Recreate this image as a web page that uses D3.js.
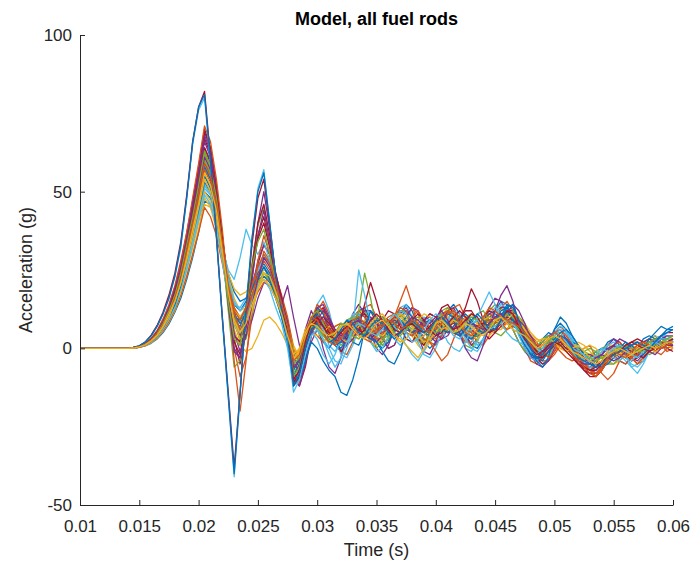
<!DOCTYPE html>
<meta charset="utf-8">
<head>
    <title>Model, all fuel rods</title>
    <script src="https://d3js.org/d3.v7.min.js"></script>
    <style>
        body { margin: 0; background: #fff; }
        .tick text { font-family: "Liberation Sans", Arial, sans-serif; font-size: 17px; fill: #262626; }
        .domain, .tick line { stroke: #262626; }
    </style>
</head>
<body>
<script>
    // sampling of the rod signals (s)
    var t0 = 0.01, dt = 0.0005;

    var xTicks = [0.01, 0.015, 0.02, 0.025, 0.03, 0.035, 0.04, 0.045, 0.05, 0.055, 0.06];
    var xTickLabels = ["0.01", "0.015", "0.02", "0.025", "0.03", "0.035", "0.04", "0.045", "0.05", "0.055", "0.06"];
    var yTicks = [-50, 0, 50, 100];
    var yTickLabels = ["-50", "0", "50", "100"];

    // acceleration (g) per rod, one value every dt from t0
    var rod01 = [0,0,0,0,0,0,0,0,0,0, 0.3,0.8,1.6,3,5,7.8,11.5,16,22,29, 37,47,46,40,31,21,14,12,15,21, 26,29,27,22,16,8,-3,-6,0,8,
        13,11,6,1,-1,2,7,12,13,9, 4,1,2,6,11,14,12,7,2,0, 2,7,12,14,11,5,1,0,3,8, 12,15,14,10,5,0,-3,-4,-2,2, 6,8,6,2,-2,-5,-6,-4,-1,2, 3,1,-2,-4,-3,0,3,4,2,0, 1];
    var rod02 = [0,0,0,0,0,0,0,0,0,0.3, 0.7,1.6,3.2,5.7,9.4,14,20,28,37,47, 57,63,57,46,30,14,0,-9,-3,10, 22,31,28,20,13,4,-8,-11,-4,5,
        12,15,11,4,-1,-2,2,8,13,14, 10,4,0,1,5,10,13,11,6,2, 1,4,9,13,14,10,5,2,1,4, 9,13,15,12,6,0,-4,-5,-3,1, 5,7,5,1,-3,-6,-8,-9,-7,-4, -1,1,0,-2,-3,-1,2,3,1,-1, 0];
    var rod03 = [0,0,0,0,0,0,0,0,0,0.1, 0.4,1,2.2,3.9,6.5,10,14,20,27,35, 43,52,50,44,34,23,16,12,13,17, 22,25,24,20,15,9,1,-3,1,6,
        11,13,10,5,2,3,7,10,11,8, 4,2,3,7,10,11,8,4,1,2, 6,10,13,12,8,3,1,2,6,10, 12,11,9,8,6,3,0,-2,-2,0, 3,4,2,-1,-4,-6,-5,-3,-1,1, 1,-1,-3,-4,-2,1,3,4,3,2, 2];
    var rod04 = [0,0,0,0,0,0,0,0,0,0.2, 0.5,1.2,2.5,4.4,7.4,11,16,22,31,40, 49,59,56,48,35,22,12,5,4,9, 16,21,20,16,11,3,-7,-4,6,12,
        8,0,-6,-8,-3,5,11,14,11,5, 0,-2,1,6,11,13,10,4,-1,-2, 2,8,12,13,9,4,1,3,8,13, 16,15,11,6,2,-1,-3,-3,-1,2, 5,6,3,-1,-4,-6,-7,-5,-2,1, 3,2,-1,-3,-4,-2,1,3,4,3, 2];
    var rod05 = [0,0,0,0,0,0,0,0,0,0.1, 0.4,1.1,2.3,4.1,6.9,10.5,15,21,29,37, 46,55,52,45,33,21,13,9,11,16, 20,23,22,18,12,5,-5,-7,-1,7,
        12,12,8,3,1,3,8,12,12,8, 3,1,3,8,12,12,8,3,1,3, 8,12,13,10,5,1,0,3,8,12, 14,13,10,6,2,-1,-2,-1,1,3, 5,5,2,-2,-5,-6,-5,-2,0,1, 0,-2,-3,-2,0,2,3,2,1,1, 2];
    var rod06 = [0,0,0,0,0,0,0,0,0,0.2, 0.5,1.2,2.4,4.4,7.3,11,16,22,30,39, 48,58,55,46,33,20,14,13,16,21, 26,30,28,22,15,6,-6,-9,-3,6,
        14,17,12,4,-2,-3,1,6,9,8, 5,3,5,9,13,14,10,5,2,3, 7,11,12,9,4,0,-1,2,7,11, 13,11,8,6,5,3,-1,-4,-5,-3, 1,4,5,3,0,-4,-7,-8,-6,-3, -1,-2,-4,-6,-5,-2,1,3,4,4, 3];
    var rod07 = [0,0,0,0,0,0,0,0,0,0.2, 0.5,1.3,2.8,5,8.4,12.7,18,25,35,45, 56,67,62,51,36,20,8,3,7,17, 27,33,30,23,15,7,-9,-12,-6,4,
        11,13,9,3,-1,1,6,10,11,9, 6,5,7,10,12,11,7,3,1,4, 9,13,14,11,7,4,3,6,10,12, 11,9,8,9,8,5,1,-3,-5,-4, -1,2,3,1,-3,-7,-9,-9,-7,-4, -2,-1,-2,-4,-3,0,2,3,2,0, -1];
    var rod08 = [0,0,0,0,0,0,0,0,0,0.1, 0.4,1,2.1,3.8,6.3,9.5,14,19,26,34, 42,50,48,42,33,24,18,15,16,19, 22,23,21,17,12,6,-2,-4,2,9,
        13,11,6,2,0,3,8,11,10,6, 2,0,2,6,10,12,10,6,3,2, 4,8,11,11,8,5,3,4,7,10, 11,10,8,7,6,4,1,-1,-1,1, 3,3,1,-2,-4,-4,-3,-1,0,0, -2,-4,-5,-3,0,3,4,3,1,0, 1];
    var rod09 = [0,0,0,0,0,0,0,0,0,0.2, 0.5,1.2,2.6,4.6,7.6,11.6,17,23,32,41, 51,61,58,49,35,21,13,10,12,18, 25,29,28,23,17,10,0,-4,1,9,
        14,12,7,3,3,6,10,12,10,6, 3,3,6,10,13,12,8,4,2,4, 8,11,12,9,5,2,2,5,9,11, 10,7,6,8,9,7,3,-1,-4,-4, -2,1,2,0,-3,-5,-6,-6,-4,-1, 1,2,0,-3,-5,-4,-1,2,3,2, 0];
    var rod10 = [0,0,0,0,0,0,0,0,0,0.1, 0.3,0.8,1.7,3.2,5.4,8.3,12,17,23,30, 38,46,45,40,32,24,19,17,18,21, 23,24,22,18,13,7,0,-2,3,10,
        12,8,3,1,3,7,10,9,5,2, 1,4,8,11,11,8,4,1,-1,2, 6,9,10,8,6,5,6,8,9,8, 6,6,8,10,9,6,2,-1,-2,0, 2,1,-1,-3,-4,-3,-2,-2,-3,-4, -5,-4,-2,0,1,0,-1,0,1,2, 3];
    var rod11 = [0,0,0,0,0,0,0,0,0,0.2, 0.5,1.3,2.7,4.8,8,12,18,24,33,43, 53,64,60,50,35,19,8,4,9,19, 28,33,30,24,16,6,-10,-12,-5,6,
        13,14,10,5,2,2,5,9,12,12, 8,3,0,1,5,10,13,12,8,4, 2,3,6,9,10,9,7,7,9,11, 12,13,13,11,7,2,-2,-5,-6,-4, 0,3,3,0,-4,-6,-8,-7,-5,-2, 0,1,0,-2,-3,-2,0,2,3,3, 2];
    var rod12 = [0,0,0,0,0,0,0,0,0,0.1, 0.5,1.1,2.4,4.3,7.1,11,16,22,30,38, 47,57,54,46,34,21,10,2,3,11, 19,24,23,19,14,8,-1,-5,-2,5,
        10,9,5,2,3,7,10,10,6,2, 0,2,6,10,11,9,5,2,2,5, 9,11,9,6,4,5,8,11,12,9, 5,4,6,9,10,8,3,-1,-3,-2, 1,3,2,-1,-3,-4,-3,-2,-3,-5, -5,-3,0,2,2,0,-2,-1,1,3, 4];
    var rod13 = [0,0,0,0,0,0,0,0,0,0.1, 0.4,1,2.1,3.8,6.4,9.7,14,20,27,35, 43,51,49,43,33,22,15,12,14,19, 25,29,27,21,13,2,-12,-10,-1,8,
        10,6,1,-1,2,7,11,11,7,2, -1,0,4,9,12,11,7,2,-2,-3, 0,5,9,10,7,3,0,-1,2,7, 11,14,13,9,4,0,-3,-4,-2,2, 5,7,6,3,-1,-4,-6,-7,-6,-4, -2,-1,-3,-5,-6,-4,-1,1,2,2, 1];
    var rod14 = [0,0,0,0,0,0,0,0,0,0.2, 0.6,1.4,2.9,5.2,8.6,13,19,26,36,46, 57,69,64,52,36,18,3,-5,5,22, 36,42,33,22,14,5,-11,-9,0,9,
        12,9,5,3,5,8,9,7,4,3, 5,9,12,11,7,3,2,5,9,11, 10,7,5,6,9,12,12,9,5,3, 5,9,12,12,9,4,0,-3,-3,-1, 2,3,1,-2,-5,-7,-8,-8,-6,-3, -1,0,1,1,0,-1,0,2,4,5, 5];
    var rod15 = [0,0,0,0,0,0,0,0,0,0.2, 0.5,1.2,2.4,4.4,7.3,11,16,22,30,39, 48,58,54,45,32,18,9,7,12,19, 24,27,24,19,14,6,-7,-3,4,8,
        6,2,0,3,6,5,2,1,5,9, 10,7,4,5,8,10,8,5,4,6, 9,10,8,5,5,8,11,9,6,5, 8,12,13,10,6,2,-1,0,3,5, 4,1,0,2,1,-2,-4,-4,-2,0, -1,-3,-2,1,2,0,-1,1,3,3, 2];
    var rod16 = [0,0,0,0,0,0,0,0,0,0.1, 0.4,0.9,1.9,3.4,5.6,8.6,12.4,17,23,30, 37,45,42,36,27,17,10,8,10,14, 18,21,22,20,16,9,-2,-1,3,7,
        9,7,4,2,3,6,8,6,3,2, 4,7,9,8,6,7,10,12,9,5, 3,4,7,9,7,4,3,5,8,10, 9,7,8,11,9,5,1,-2,-1,2, 5,6,4,1,-1,0,1,-3,-8,-10, -8,-4,-2,-3,-5,-3,0,2,1,0, 1];
    var rod17 = [0,0,0,0,0,0,0,0,0,0.1, 0.4,1,2.1,3.8,6.3,9.5,14,19,26,34, 42,50,47,40,29,17,6,1,-1,0, 4,9,10,8,5,1,-4,0,6,9,
        7,4,5,7,8,6,4,3,6,8, 9,8,6,8,11,10,7,4,2,3, 5,8,10,11,9,6,4,3,5,7, 8,7,6,8,9,8,5,3,2,1, 2,3,1,-1,-2,0,1,0,-2,-4, -3,-1,0,1,0,-2,-1,1,2,3, 3];
    var rod18 = [0,0,0,0,0,0,0,0,0,0.2, 0.5,1.3,2.8,5,8.3,12.5,18,25,34,44, 55,66,61,49,33,15,0,-3,8,24, 40,50,38,22,14,20,10,1,-3,2,
        6,9,7,3,2,4,7,9,8,4, 2,4,8,10,9,6,5,7,9,8, 5,3,4,7,10,9,6,4,5,8, 10,9,11,14,12,8,3,0,1,3, 4,3,2,0,-1,-3,-5,-6,-4,-1, 1,0,-2,-3,-1,2,3,2,0,1, 3];
    var rod19 = [0,0,0,0,0,0,0,0,0,0.2, 0.5,1.2,2.6,4.7,7.8,12,17,24,32,42, 51,62,57,47,31,12,-6,-4,10,27, 39,45,33,20,12,5,-8,-5,3,10,
        12,8,4,3,5,6,2,12,24,16, 6,3,4,7,9,8,6,6,8,9, 7,5,6,9,10,8,5,4,7,10, 9,8,10,12,10,7,4,2,3,4, 3,1,0,1,0,-1,-2,-1,-3,-4, -2,0,1,-1,-2,0,2,3,2,1, 2];
    var rod20 = [0,0,0,0,0,0,0,0,0,0.1, 0.4,1,2.2,3.9,6.5,10,14,20,27,35, 43,52,49,41,32,25,22,29,38,33, 30,34,28,18,10,2,-9,-6,1,5,
        3,-2,-5,-2,3,6,7,5,4,6, 9,10,7,3,1,3,6,8,10,9, 7,6,9,12,11,7,3,1,3,6, 9,11,10,8,8,6,3,0,-1,1, 4,6,5,2,-1,-3,-4,-3,-1,1, 2,0,-3,-4,-2,1,2,1,3,5, 6];
    var rod21 = [0,0,0,0,0,0,0,0,0,0.2, 0.6,1.4,2.9,5.3,8.8,13,19,27,36,47, 58,70,64,52,35,17,2,-2,9,26, 40,46,36,24,16,6,-11,-7,1,7,
        9,7,5,6,5,3,4,7,14,21, 15,8,5,6,8,7,5,6,9,11, 10,8,7,8,9,13,19,15,9,6, 5,7,9,10,8,5,2,-1,-2,0, 3,4,2,0,-1,-3,-4,-5,-6,-4, -2,-1,1,2,3,2,0,-1,1,2, 3];
    var rod22 = [0,0,0,0,0,0,0,0,0,0.1, 0.4,1.1,2.3,4.1,6.9,10.5,15,21,29,37, 46,55,51,43,31,19,11,8,11,17, 22,26,23,17,10,3,-9,-5,3,9,
        11,7,3,1,2,5,8,10,7,3, 2,-1,-4,-5,-1,6,9,8,5,4, 6,9,11,10,7,4,3,5,8,9, 8,10,14,13,9,4,-1,-4,-6,-3, 6,10,8,4,1,-2,-4,-5,-6,-5, -3,-1,0,-1,-2,0,3,5,7,6, 7];
    var rod23 = [0,0,0,0,0,0,0,0,0,0.2, 0.6,1.4,3,5.3,8.9,13.5,19.5,27,37,48, 59,71,66,54,38,18,-4,-20,-4,14, 28,36,30,20,13,5,-10,-8,0,6,
        4,2,4,7,8,6,4,5,7,8, 6,5,7,10,15,20,14,7,3,2, -1,-4,-2,3,8,10,8,6,7,9, 10,8,6,7,8,6,4,2,-1,-3, -1,2,3,1,-2,-5,-7,-8,-6,-3, -2,-4,-5,-3,0,2,1,-1,-2,0, 1];
    var rod24 = [0,0,0,0,0,0,0,0,0,0.1, 0.4,1,2,3.6,6,9.2,13,18,25,32, 40,48,45,38,28,18,12,10,13,18, 21,22,20,17,12,4,-4,-2,3,5,
        4,5,7,6,3,2,4,7,9,7, 5,4,6,9,10,8,5,3,4,7, 9,8,6,5,7,10,11,8,5,4, 6,9,11,10,8,6,5,3,2,2, 1,0,-1,0,2,1,-1,-3,-5,-4, -2,-2,-1,0,-1,-2,-1,0,1,1, 0];
    var rod25 = [0,0,0,0,0,0,0,0,0,0.2, 0.5,1.4,2.9,5.1,8.5,13,19,26,35,46, 56,68,63,50,33,14,-1,-3,7,22, 36,44,34,22,15,8,-4,-8,-3,4,
        9,12,10,6,3,1,3,6,8,10, 8,6,7,9,8,5,4,6,9,10, 8,6,7,9,5,0,-3,-4,1,7, 12,17,20,15,8,3,1,0,2,4, 5,4,3,1,-1,-2,-2,-3,-2,0, 1,3,2,0,-2,-3,-1,1,3,4, 4];
    var rod26 = [0,0,0,0,0,0,0,0,0,0.2, 0.5,1.2,2.5,4.5,7.5,11.5,16.5,23,31,40, 50,60,56,47,33,19,10,6,9,16, 21,24,22,17,11,4,-5,-3,4,9,
        8,4,2,4,7,9,10,8,5,4, 6,8,9,7,5,6,9,10,8,6, 5,6,8,9,7,6,7,9,10,8, 7,9,11,10,7,4,2,1,2,4, 3,1,0,-2,-3,-1,0,-1,-3,-3, -1,1,0,-2,-1,1,2,1,0,1, 2];
    var rod27 = [0,0,0,0,0,0,0,0,0,0.1, 0.4,1,2,3.7,6.1,9.3,13,19,25,33, 41,49,46,39,28,16,7,5,9,15, 20,22,19,13,8,0,-12,-10,-2,5,
        7,3,0,-4,-5,0,6,25,17,8, 5,6,8,7,4,1,-2,-4,-1,4, 8,6,2,0,-1,2,6,10,14,18, 14,8,5,3,2,1,0,-2,-1,1, 3,4,2,-1,-3,-5,-4,-2,0,-1, -3,-4,-2,-6,-8,-5,-1,2,3,3, 2];
    var rod28 = [0,0,0,0,0,0,0,0,0,0.2, 0.5,1.3,2.7,4.8,8,12,18,24,33,43, 53,64,59,49,34,17,4,2,11,25, 35,40,32,22,14,6,-12,-9,0,6,
        9,10,8,5,4,5,7,6,4,5, 8,10,9,6,5,7,9,11,9,6, 4,5,8,10,12,10,8,7,8,7, 6,8,10,9,7,5,2,-1,-3,-1, 1,2,0,-2,-4,-6,-7,-7,-5,-3, -2,-1,0,-1,-2,-3,-1,1,2,1, 1];
    var rod29 = [0,0,0,0,0,0,0,0,0,0.1, 0.4,1,2.2,3.9,6.6,10,14,20,28,36, 44,53,50,42,30,18,10,9,13,19, 23,26,22,16,10,2,-8,-10,-4,2,
        0,-4,-7,-9,-14,-15,-10,-3,6,12, 10,7,6,8,9,7,5,6,8,9, 8,6,5,7,9,11,9,6,5,6, 9,11,12,9,5,1,-2,-3,-2,1, 3,5,6,4,1,-2,-4,-6,-5,-3, -1,0,2,1,-1,-2,0,2,4,6, 6];
    var rod30 = [0,0,0,0,0,0,0,0,0,0.1, 0.5,1.1,2.4,4.3,7.1,11,16,22,30,38, 47,57,53,45,32,19,11,6,10,17, 23,28,25,19,12,4,-6,-4,2,8,
        10,9,6,4,4,6,8,9,7,5, 6,8,10,11,8,5,4,6,8,7, 6,8,11,12,10,6,5,7,9,9, 8,10,12,11,8,4,1,0,1,2, 1,-1,-3,-4,-3,-5,-7,-9,-7,-4, -2,-1,-2,-3,-2,0,1,0,1,2, 2];
    var rod31 = [0,0,0,0,0,0,0,0,0,0.1, 0.4,1.1,2.3,4,6.8,10,15,21,28,36, 45,54,50,42,30,17,8,3,5,12, 19,24,23,18,13,7,-3,-1,4,7,
        6,3,2,4,7,8,7,5,5,8, 10,11,8,4,2,3,6,9,11,10, 8,6,7,9,8,5,4,6,9,10, 9,8,9,11,10,6,3,2,3,3, 2,0,-1,0,1,-1,-3,-4,-3,-1, 0,-1,-3,-2,0,1,0,-1,0,2, 3];
    var rod32 = [0,0,0,0,0,0,0,0,0,0.2, 0.5,1.2,2.6,4.6,7.6,11.6,17,23,32,41, 51,61,57,47,32,16,5,-1,4,14, 22,29,26,20,15,8,-6,-4,1,5,
        8,10,9,6,4,5,8,9,6,4, 5,7,6,4,5,8,10,9,7,8, 10,12,9,5,4,6,8,7,6,8, 10,11,9,8,9,7,4,1,-1,0, 2,3,1,-2,-4,-5,-5,-3,-2,-3, -4,-3,-1,1,2,1,-1,-2,0,1, 1];
    var rod33 = [0,0,0,0,0,0,0,0,0,0.2, 0.5,1.3,2.6,4.7,7.9,12,17,24,33,42, 52,63,58,48,33,15,3,1,12,26, 34,38,30,21,14,7,-9,-6,2,7,
        7,4,3,5,8,7,4,3,5,7, 9,10,8,5,4,6,8,7,5,6, 8,9,7,5,6,8,10,9,7,7, 9,10,9,8,6,5,2,0,0,2, 4,3,1,0,-1,-2,-3,-4,-3,-2, -1,0,1,0,-1,-1,0,1,2,3, 4];
    var rod34 = [0,0,0,0,0,0,0,0,0,0.3, 0.8,2,4,7,11,16,23,32,48,65, 76,80,59,35,9,-16,-41,-15,12,35, 51,57,40,22,12,3,-14,-10,-2,4,
        6,3,-2,-6,-3,2,6,8,7,5, 4,6,9,11,9,5,2,3,6,9, 11,10,7,4,3,5,8,9,7,6, 7,8,9,8,5,2,-1,-2,0,3, 5,4,2,0,-1,-2,-4,-5,-4,-2, 0,1,0,-2,-3,-1,1,2,1,2, 3];
    var rod35 = [0,0,0,0,0,0,0,0,0,0.3, 0.8,2,4.2,7.3,11.5,17,24,34,49,66, 77,82,61,36,10,-14,-38,-14,12,33, 48,54,39,23,13,5,-10,-7,2,8,
        10,7,4,3,5,7,6,4,6,9, 11,9,6,4,5,7,8,6,5,7, 9,10,8,6,7,9,11,10,7,5, 6,9,12,11,7,3,0,-2,-1,1, 2,1,-1,-3,-5,-6,-7,-6,-4,-3, -2,-1,1,2,1,0,-1,0,1,2, 3];
    var rod36 = [0,0,0,0,0,0,0,0,0,0.3, 0.8,2,4,7,11,16,23,33,48,66, 77,81,60,36,10,-15,-40,-14,13,35, 50,56,40,23,12,4,-12,-8,0,6,
        8,5,2,3,6,9,8,5,4,7, 9,8,5,3,5,8,9,7,5,6, 9,10,8,5,4,6,9,11,9,6, 6,9,13,14,9,4,0,-3,-4,-1, 2,4,3,0,-3,-4,-5,-6,-5,-3, -2,-1,0,1,2,1,0,2,4,5, 6];
    var rod37 = [0,0,0,0,0,0,0,0,0,0.2, 0.5,1.2,2.5,4.4,7.4,11,16,22,31,40, 49,59,55,46,33,20,12,9,13,20, 26,30,27,21,14,7,-4,-2,5,10,
        9,5,2,1,3,6,9,10,8,6, 5,7,9,8,6,7,9,8,6,5, 7,10,12,11,8,5,4,6,10,13, 12,10,9,8,7,5,3,1,1,3, 5,4,1,-2,-4,-6,-8,-9,-6,-3, -1,-2,-3,-1,1,2,1,0,0,1, 2];
    var rod38 = [0,0,0,0,0,0,0,0,0,0.1, 0.5,1.1,2.4,4.2,7,11,15,21,29,38, 46,56,52,44,31,18,9,5,8,14, 19,22,20,16,11,4,-2,0,5,8,
        7,5,4,5,7,8,6,4,3,5, 8,9,7,4,3,1,-1,-3,0,4, 8,9,7,5,6,8,7,5,4,6, 9,10,8,6,5,4,2,0,1,3, 4,3,1,-1,-2,-3,-4,-5,-4,-2, -1,0,-1,-2,-1,0,1,0,1,2, 2];

    var rods = [rod01, rod02, rod03, rod04, rod05, rod06, rod07, rod08, rod09, rod10,
                rod11, rod12, rod13, rod14, rod15, rod16, rod17, rod18, rod19, rod20,
                rod21, rod22, rod23, rod24, rod25, rod26, rod27, rod28, rod29, rod30,
                rod31, rod32, rod33, rod34, rod35, rod36, rod37, rod38];

    // MATLAB default line colour order
    var lineColors = ["#0072BD", "#D95319", "#EDB120", "#7E2F8E", "#77AC30", "#4DBEEE", "#A2142F"];

    var width = 693, height = 564;
    var margin = {top: 35, right: 20, bottom: 59, left: 80};

    var svg = d3.select("body").append("svg")
        .attr("width", width)
        .attr("height", height)
        .style("font-family", "'Liberation Sans', Arial, sans-serif");

    var x = d3.scaleLinear().domain([0.01, 0.06]).range([margin.left, width - margin.right]);
    var y = d3.scaleLinear().domain([-50, 100]).range([height - margin.bottom, margin.top]);

    var line = d3.line()
        .x(function(d, i) { return x(t0 + i * dt); })
        .y(function(d) { return y(d); });

    svg.append("g")
        .selectAll("path")
        .data(rods)
        .enter().append("path")
        .attr("d", line)
        .attr("fill", "none")
        .attr("stroke", function(d, i) { return lineColors[i % lineColors.length]; })
        .attr("stroke-width", 1.3)
        .attr("stroke-linejoin", "round");

    // axes, ticks pointing inward like MATLAB
    svg.append("g")
        .attr("transform", "translate(0," + (height - margin.bottom) + ")")
        .call(d3.axisBottom(x)
            .tickValues(xTicks)
            .tickFormat(function(d, i) { return xTickLabels[i]; })
            .tickSizeInner(-5)
            .tickSizeOuter(0)
            .tickPadding(15));

    svg.append("g")
        .attr("transform", "translate(" + margin.left + ",0)")
        .call(d3.axisLeft(y)
            .tickValues(yTicks)
            .tickFormat(function(d, i) { return yTickLabels[i]; })
            .tickSizeInner(-5)
            .tickSizeOuter(0)
            .tickPadding(8));

    svg.append("text")
        .attr("x", (margin.left + width - margin.right) / 2)
        .attr("y", 25)
        .attr("text-anchor", "middle")
        .style("font-size", "18px")
        .style("font-weight", "bold")
        .style("fill", "#000")
        .text("Model, all fuel rods");

    svg.append("text")
        .attr("x", (margin.left + width - margin.right) / 2)
        .attr("y", 556)
        .attr("text-anchor", "middle")
        .style("font-size", "18px")
        .style("fill", "#262626")
        .text("Time (s)");

    svg.append("text")
        .attr("transform", "translate(32," + (height - margin.bottom + margin.top) / 2 + ") rotate(-90)")
        .attr("text-anchor", "middle")
        .style("font-size", "18px")
        .style("fill", "#262626")
        .text("Acceleration (g)");
</script>
</body>
</html>
